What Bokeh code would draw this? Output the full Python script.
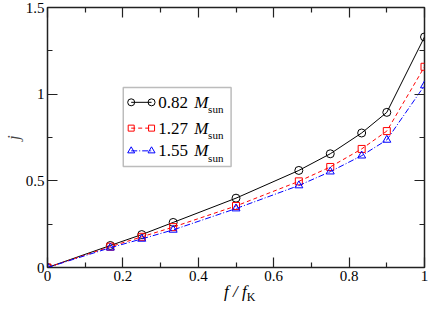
from bokeh.plotting import figure
from bokeh.layouts import column
from bokeh.models import (Range1d, LinearAxis, FixedTicker, Label, BoxAnnotation,
                          ColumnDataSource, Div)
from bokeh.embed import file_html
from bokeh.resources import INLINE

# ---- data ----
f_ratio = [0.0, 1/6, 0.25, 1/3, 0.5, 2/3, 0.75, 5/6, 0.9, 1.0]
j_082 = [0.0, 0.127, 0.19, 0.26, 0.40, 0.56, 0.656, 0.776, 0.895, 1.33]
j_127 = [0.0, 0.12, 0.177, 0.233, 0.355, 0.497, 0.58, 0.684, 0.787, 1.158]
j_155 = [0.0, 0.114, 0.165, 0.217, 0.34, 0.473, 0.553, 0.645, 0.736, 1.05]
masses = ["0.82", "1.27", "1.55"]

x_ticks = [0, 0.2, 0.4, 0.6, 0.8, 1.0]
x_minor = [0.1, 0.3, 0.5, 0.7, 0.9]
y_ticks = [0, 0.5, 1.0, 1.5]
y_minor = [0.25, 0.75, 1.25]

FONT = "Liberation Serif"
FRAME = "#222222"
W, H = 428, 290

p = figure(width=W, height=H, output_backend="svg", toolbar_location=None,
           x_range=Range1d(0, 1), y_range=Range1d(0, 1.5),
           x_axis_location=None, y_axis_location=None,
           min_border_left=43, min_border_right=4, min_border_top=7, min_border_bottom=23)
p.grid.visible = False
p.outline_line_color = FRAME
p.outline_line_width = 1.5
p.background_fill_color = "white"
p.border_fill_color = "white"


def make_axis(ticks, minor, labels=True, overrides=None):
    ax = LinearAxis(ticker=FixedTicker(ticks=ticks, minor_ticks=minor))
    ax.axis_line_color = None
    ax.major_tick_in = 10
    ax.major_tick_out = 0
    ax.minor_tick_in = 5
    ax.minor_tick_out = 0
    ax.major_tick_line_color = FRAME
    ax.minor_tick_line_color = FRAME
    ax.major_tick_line_width = 1.2
    ax.minor_tick_line_width = 1.2
    if labels:
        ax.major_label_text_font = FONT
        ax.major_label_text_font_size = "15px"
        ax.major_label_text_color = "black"
        ax.major_label_standoff = 3
        if overrides:
            ax.major_label_overrides = overrides
    else:
        ax.major_label_overrides = {t: "" for t in ticks}
        ax.major_label_text_font_size = "0px"
        ax.major_label_standoff = 0
    return ax


xb = make_axis(x_ticks, x_minor, True, {0: "0", 1: "1"})
yl = make_axis(y_ticks, y_minor, True, {0: "0", 1: "1"})
yl.axis_label = "j"
yl.axis_label_text_font = FONT
yl.axis_label_text_font_style = "italic"
yl.axis_label_text_font_size = "17px"
yl.axis_label_standoff = 0
p.add_layout(xb, "below")
p.add_layout(yl, "left")
p.add_layout(make_axis(x_ticks, x_minor, False), "above")
p.add_layout(make_axis(y_ticks, y_minor, False), "right")

# ---- series ----
styles = [
    (j_082, "black", "solid", "circle", 8),
    (j_127, "red", "4 3", "square", 7),
    (j_155, "blue", "6 2 1 2", "triangle", 8),
]
for ys, col, dash, marker, size in styles:
    src = ColumnDataSource(dict(x=f_ratio, y=ys))
    p.line("x", "y", source=src, line_color=col, line_width=1, line_dash=dash)
    p.scatter("x", "y", source=src, marker=marker, size=size, fill_color=None,
              line_color=col, line_width=1)

# ---- legend (manual, to allow italic M with subscript) ----
box = BoxAnnotation(left=0.201, right=0.487, top=1.038, bottom=0.582,
                    fill_color="white", fill_alpha=1, line_color=FRAME, line_width=1.5,
                    level="underlay")
p.add_layout(box)
row_y = [0.953, 0.804, 0.673]
for (ys, col, dash, marker, size), m, ry in zip(styles, masses, row_y):
    lx = [0.222, 0.276]
    src = ColumnDataSource(dict(x=lx, y=[ry, ry]))
    p.line("x", "y", source=src, line_color=col, line_width=1, line_dash=dash)
    p.scatter("x", "y", source=src, marker=marker, size=size - 1, fill_color=None,
              line_color=col, line_width=1)
    p.add_layout(Label(x=0.294, y=ry, text=m, text_font=FONT, text_font_size="17px",
                       text_baseline="middle", text_align="left", text_color="black"))
    p.add_layout(Label(x=0.389, y=ry, text="M", text_font=FONT, text_font_size="17px",
                       text_font_style="italic", text_baseline="middle",
                       text_align="left", text_color="black"))
    p.add_layout(Label(x=0.426, y=ry - 0.04, text="sun", text_font=FONT,
                       text_font_size="11px", text_baseline="middle",
                       text_align="left", text_color="black"))

# ---- x axis title (HTML, for the subscript) ----
xtitle = Div(
    text='<i>f</i> <i>/</i> <i>f</i><sub style="font-size:12px;font-style:normal;'
         'vertical-align:-4px;line-height:0">K</sub>',
    width=W, height=20, margin=(-8, 0, 0, 0),
    styles={"font-family": "'Liberation Serif'", "font-size": "17px", "color": "black",
            "line-height": "20px", "padding-left": "224px", "white-space": "nowrap"})

layout = column(p, xtitle, spacing=0)
open("out.html", "w").write(file_html(layout, INLINE))
